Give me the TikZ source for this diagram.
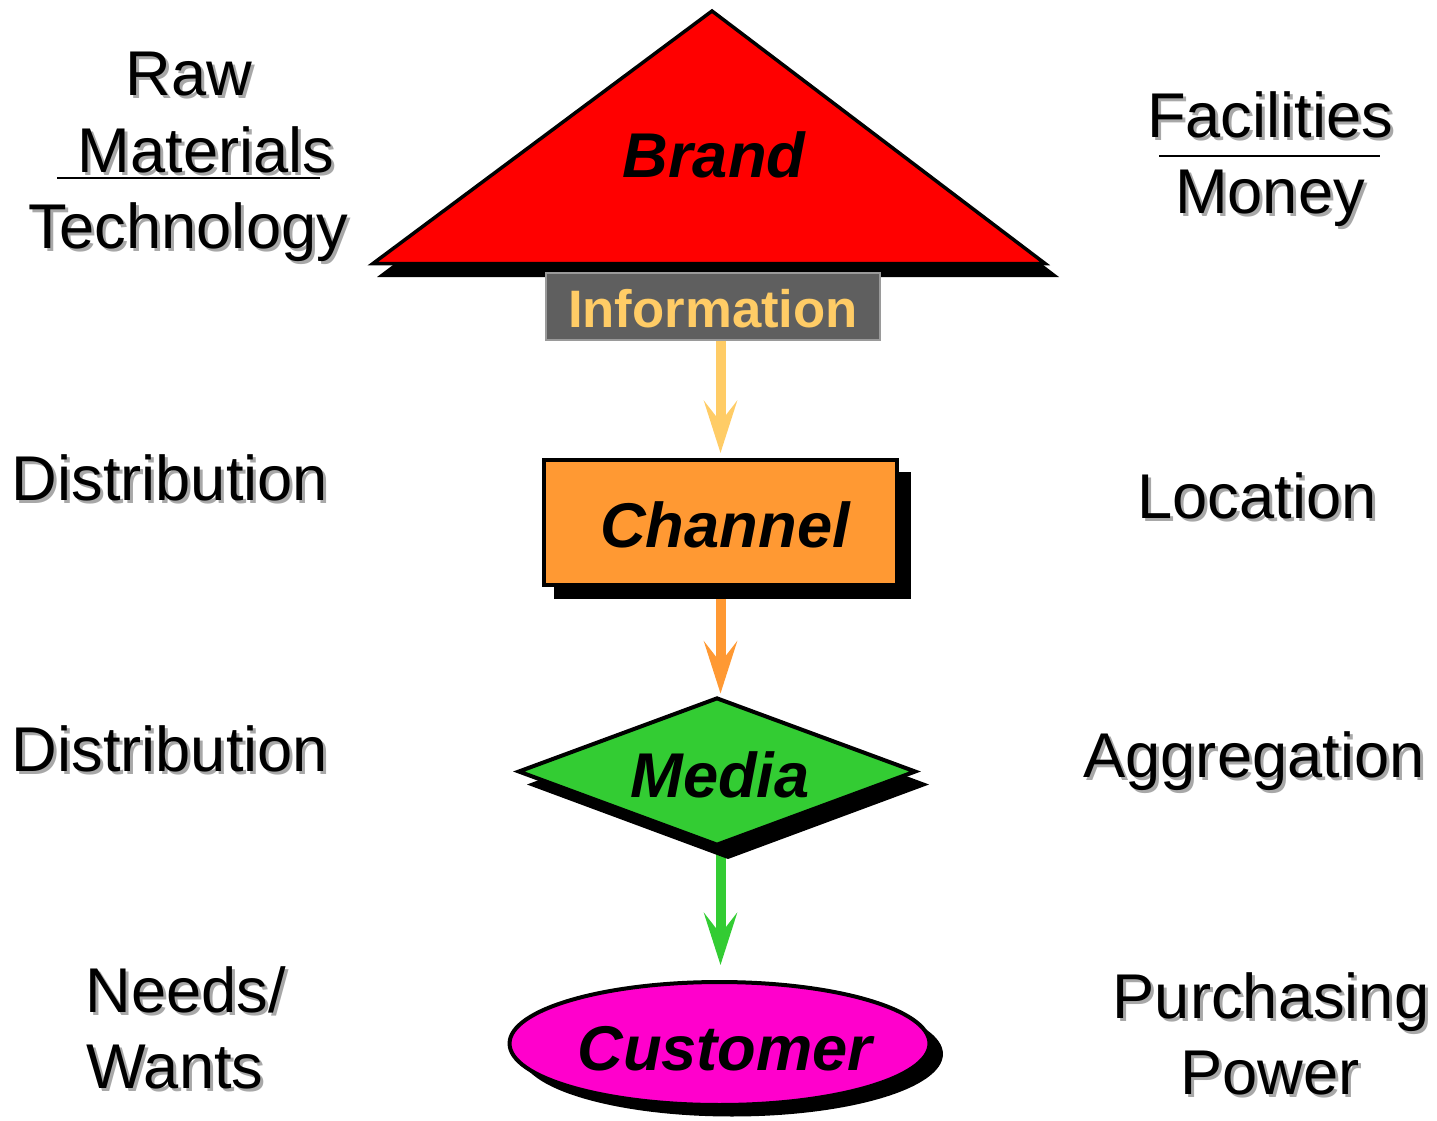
\documentclass[tikz,border=0pt]{standalone}
\usepackage{fontspec}
\setmainfont{Liberation Sans}
\usetikzlibrary{arrows.meta,shapes.geometric,backgrounds}
\definecolor{brandred}{HTML}{FF0000}
\definecolor{infogray}{HTML}{5F5F5F}
\definecolor{infoborder}{HTML}{9A9A9A}
\definecolor{infotext}{HTML}{FFCC66}
\definecolor{chanorange}{HTML}{FF9933}
\definecolor{medgreen}{HTML}{33CC33}
\definecolor{custmag}{HTML}{FF00CC}
\definecolor{txtshd}{HTML}{A8A8A8}
\tikzset{
  lbl/.style={font=\fontsize{36}{40}\selectfont, anchor=base, inner sep=0},
  shapetxt/.style={font=\fontsize{36}{40}\selectfont\bfseries\itshape, anchor=base, inner sep=0},
  flow/.style={line width=0.2cm, -{Stealth[length=1.04cm,width=0.66cm,inset=0.42cm]}},
  outline/.style={draw=black, line width=0.08cm, inner sep=0},
}
\newcommand\shtxt[1]{\makebox[0pt][l]{\hspace{0.06cm}\raisebox{-0.06cm}{\textcolor{txtshd}{#1}}}#1}
\newcommand\shlab[3]{\node[lbl] (#1) at (#2) {\shtxt{#3}};}
\begin{document}
\begin{tikzpicture}[x=0.02cm,y=-0.02cm]
\useasboundingbox (0,0) rectangle (1437,1120);

% Brand triangle
\fill[black,shift={(9,12)}] (712,8) -- (368,265) -- (1050,265) -- cycle;
\filldraw[fill=brandred, draw=black, line width=0.07cm, line join=miter] (712,11) -- (373,263.5) -- (1045,263.5) -- cycle;
\node[shapetxt] (brand) at (714,177) {Brand};

% Information box
\node[draw=infoborder, fill=infogray, line width=0.04cm, inner sep=0, minimum width=6.7cm, minimum height=1.34cm] (info) at (713,306) {};
\node[font=\fontsize{30}{36}\selectfont\bfseries, text=infotext, anchor=base, inner sep=0] (infotxt) at (713,327) {Information};

% Channel
\fill[black] (554,472) rectangle (911,599);
\node[outline, fill=chanorange, minimum width=7.06cm, minimum height=2.5cm] (chan) at (720.5,522.5) {};
\node[shapetxt] (chantxt) at (725,547) {Channel};

% Media
\fill[black,shift={(11,13)}] (717,697) -- (516,771.5) -- (717,846) -- (918,771.5) -- cycle;
\node[outline, diamond, fill=medgreen, minimum width=7.96cm, minimum height=2.96cm] (med) at (717,771.5) {};
\node[shapetxt] (medtxt) at (720,797) {Media};

% Customer
\fill[black] (732,1054) ellipse [x radius=4.22cm, y radius=1.25cm];
\node[outline, ellipse, fill=custmag, minimum width=8.4cm, minimum height=2.46cm] (cust) at (719.5,1043.5) {};
\node[shapetxt] (custtxt) at (725,1070) {Customer};

% Arrows
\begin{scope}[on background layer]
\draw[flow, infotext, shorten >=0.1cm] (info.south -| chan.north) -- (chan.north);
\draw[flow, chanorange, shorten >=0.04cm] (chan.south) -- (chan.south |- med.north);
\draw[flow, medgreen, shorten >=0.3cm] (med.south -| chan.south) -- (chan.south |- cust.north);
\end{scope}

% Left labels
\shlab{raw}{189,95}{Raw}
\shlab{mat}{206,172}{Materials}
\draw[line width=0.04cm] (57,178) -- (320,178);
\shlab{tech}{188,248}{Technology}
\shlab{dist1}{170,500}{Distribution}
\shlab{dist2}{170,771}{Distribution}
\shlab{needs}{186,1012}{Needs/}
\shlab{wants}{175,1088}{Wants}

% Right labels
\shlab{fac}{1270,137}{Facilities}
\draw[line width=0.04cm] (1159,156) -- (1380,156);
\shlab{money}{1270,213}{Money}
\shlab{loc}{1257,518}{Location}
\shlab{aggr}{1254,777}{Aggregation}
\shlab{purch}{1271,1018}{Purchasing}
\shlab{power}{1270,1094}{Power}
\end{tikzpicture}
\end{document}
